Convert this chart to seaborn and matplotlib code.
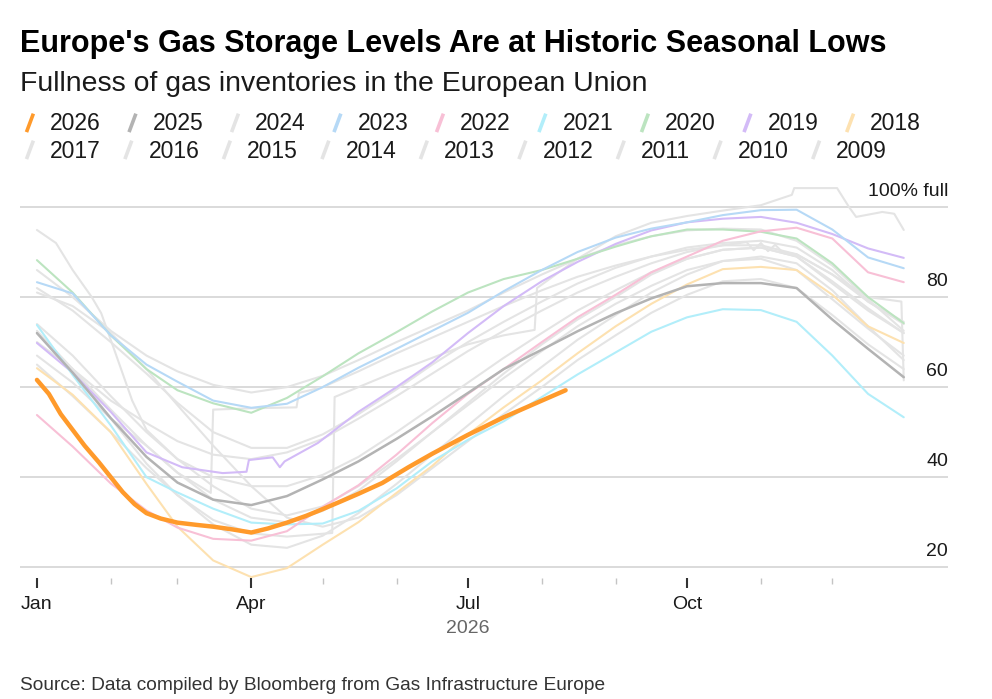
import pandas as pd
import matplotlib
matplotlib.use("Agg")
import matplotlib.pyplot as plt
from matplotlib.lines import Line2D
from matplotlib.legend_handler import HandlerBase
import seaborn as sns

# ── Data: % full, keyed by day of year ───────────────────────────────────────
DAYS = [0, 15, 31, 46, 59, 74, 90, 105, 120, 135, 151, 166, 181,
        196, 212, 227, 243, 258, 273, 288, 304, 319, 334, 349, 364]

days_2026 = [0, 5, 10, 15, 20, 26, 31, 36, 41, 46, 52, 59, 67, 74, 82, 90,
             97, 105, 113, 120, 128, 135, 145, 156, 166, 181, 196, 212, 222]
vals_2026 = [61.6, 58.5, 54.0, 50.5, 47.0, 43.3, 40.0, 36.7, 34.0, 32.0, 30.8,
             29.9, 29.4, 29.0, 28.4, 27.7, 28.6, 29.9, 31.4, 32.9, 34.7, 36.3,
             38.7, 42.2, 45.2, 49.4, 53.3, 57.0, 59.3]

vals_2025 = [72.0, 63.2, 53.1, 44.5, 38.8, 35.0, 33.8, 35.8, 39.5, 43.5, 48.5,
             53.5, 58.7, 64.0, 68.3, 72.4, 76.4, 79.7, 82.4, 83.1, 83.1, 82.0,
             75.0, 68.5, 62.2]
vals_2024 = [86.0, 80.0, 72.5, 67.0, 63.5, 60.5, 58.8, 60.0, 62.5, 66.0, 70.0,
             73.5, 77.0, 81.0, 85.0, 88.5, 91.5, 93.5, 94.8, 95.2, 95.0, 92.5,
             87.0, 79.5, 72.5]
vals_2023 = [83.3, 80.8, 71.5, 65.0, 61.2, 57.0, 55.4, 56.3, 60.0, 64.3, 68.5,
             72.5, 76.5, 81.3, 86.0, 90.0, 93.2, 95.2, 96.6, 98.2, 99.3, 99.4,
             95.0, 88.8, 86.4]
vals_2022 = [53.8, 46.8, 38.6, 32.6, 28.8, 26.3, 25.9, 28.0, 33.4, 38.2, 45.0,
             52.0, 58.5, 64.0, 70.0, 75.5, 80.5, 85.5, 89.0, 92.5, 94.6, 95.4,
             93.0, 85.5, 83.3]
vals_2021 = [73.8, 62.7, 51.5, 40.0, 36.6, 33.0, 29.9, 29.5, 29.7, 32.5, 37.5,
             43.5, 48.3, 52.4, 57.8, 62.8, 67.7, 72.3, 75.5, 77.3, 77.1, 74.5,
             67.0, 58.5, 53.3]
vals_2020 = [88.2, 81.0, 71.5, 64.0, 59.3, 56.4, 54.3, 57.6, 62.4, 67.5, 72.2,
             76.8, 81.0, 84.0, 86.0, 88.5, 91.2, 93.5, 95.0, 95.0, 94.5, 93.0,
             87.5, 80.0, 74.2]
vals_2018 = [64.2, 58.3, 50.0, 38.5, 29.0, 21.5, 17.8, 19.8, 25.0, 30.0, 36.5,
             42.5, 49.5, 55.5, 61.5, 67.5, 73.5, 78.5, 82.8, 86.2, 86.7, 86.0,
             80.5, 73.5, 69.8]

days_2019 = [0, 15, 31, 46, 61, 78, 88, 89, 99, 102, 104, 118, 135, 151, 157,
             166, 181, 196, 212, 227, 243, 258, 273, 288, 304, 319, 334, 349, 364]
vals_2019 = [69.8, 63.2, 54.5, 45.5, 42.2, 40.9, 41.2, 43.8, 44.4, 42.2, 43.5,
             47.6, 54.5, 60.0, 62.2, 65.5, 72.0, 78.0, 83.5, 87.8, 91.8, 94.8,
             96.6, 97.4, 97.8, 96.5, 94.0, 90.8, 88.7]

vals_2017 = [72.5, 64.0, 53.0, 43.0, 36.0, 29.5, 25.0, 24.3, 27.0, 32.0, 38.5,
             45.0, 51.5, 58.0, 64.5, 70.5, 76.0, 81.0, 85.0, 88.0, 89.0, 87.5,
             81.5, 73.5, 66.0]
vals_2016 = [67.0, 61.0, 53.0, 47.0, 41.0, 35.0, 31.0, 30.0, 32.5, 37.0, 43.5,
             50.0, 56.5, 63.0, 69.5, 75.0, 80.0, 85.0, 88.5, 90.5, 91.0, 89.0,
             83.0, 77.0, 72.0]
vals_2015 = [74.0, 67.0, 58.0, 50.0, 44.0, 38.0, 33.0, 31.5, 33.5, 38.0, 44.0,
             50.0, 56.0, 62.0, 68.0, 73.5, 78.5, 82.5, 86.0, 88.0, 88.5, 86.0,
             79.5, 73.0, 67.0]
vals_2014 = [82.0, 77.0, 70.0, 63.0, 56.5, 50.0, 46.5, 46.5, 49.5, 54.0, 59.5,
             65.0, 70.0, 74.5, 79.0, 83.0, 86.5, 89.0, 91.0, 92.0, 92.5, 91.0,
             86.0, 79.0, 74.0]
vals_2013 = [81.0, 78.0, 72.0, 64.0, 56.0, 47.0, 38.0, 31.0, 29.0, 31.0, 36.0,
             42.0, 48.0, 54.0, 60.0, 66.0, 71.5, 76.5, 80.5, 83.5, 84.0, 82.0,
             76.0, 69.5, 64.0]

days_2012 = [0, 8, 15, 23, 27, 32, 40, 46, 59, 74, 90, 105, 120, 135, 151, 166,
             181, 196, 212, 227, 243, 258, 273, 288, 304, 319, 334, 349, 364]
vals_2012 = [94.9, 92.0, 86.0, 80.0, 76.4, 69.0, 57.0, 50.5, 44.0, 40.0, 38.0,
             38.0, 40.5, 44.5, 50.0, 55.5, 61.0, 66.5, 72.0, 77.0, 81.5, 85.5,
             88.5, 90.5, 91.0, 89.0, 83.5, 77.5, 72.0]

days_2011 = [0, 15, 31, 46, 59, 74, 90, 105, 120, 135, 151, 166, 181, 196, 212,
             227, 243, 258, 273, 288, 298, 301, 304, 307, 310, 313, 319, 334,
             349, 364]
vals_2011 = [70.0, 64.0, 57.0, 52.0, 48.0, 45.0, 44.0, 45.5, 48.5, 53.0, 58.0,
             63.0, 68.0, 72.5, 77.0, 81.0, 84.5, 87.5, 90.0, 91.5, 92.2, 90.4,
             92.0, 90.2, 91.6, 90.0, 89.5, 85.0, 79.0, 74.5]

days_2010 = [0, 15, 31, 46, 59, 74, 90, 105, 124, 125, 135, 151, 166, 181, 196,
             209, 210, 227, 243, 258, 273, 288, 304, 317, 318, 336, 341, 344,
             355, 360, 364]
vals_2010 = [65.0, 58.0, 50.0, 42.0, 36.0, 30.5, 27.5, 26.8, 27.6, 57.8, 60.0,
             63.5, 66.5, 69.5, 71.5, 72.7, 82.0, 88.5, 93.5, 96.5, 98.0, 99.2,
             100.4, 102.7, 104.2, 104.2, 100.0, 97.8, 98.9, 98.5, 94.9]

days_2009 = [0, 15, 31, 46, 59, 73, 74, 90, 109, 110, 120, 135, 151, 166, 181,
             196, 212, 227, 243, 258, 273, 288, 304, 319, 334, 349, 363, 364]
vals_2009 = [72.0, 64.0, 55.0, 47.0, 41.0, 36.5, 55.0, 55.3, 55.5, 58.7, 60.0,
             63.5, 67.5, 71.0, 74.5, 78.0, 81.5, 84.5, 87.0, 89.0, 90.5, 91.5,
             91.5, 89.5, 85.0, 80.0, 79.0, 61.5]

YEARS = list(range(2026, 2008, -1))
GREY = "#e4e4e4"
COLORS = {2026: "#ff9a2b", 2025: "#b3b3b3", 2023: "#b6d9f6", 2022: "#f8c0d6",
          2021: "#b2eefa", 2020: "#bce4c0", 2019: "#d3bbf7", 2018: "#fde1b0"}

Y_GRID = [20, 40, 60, 80, 100]
Y_LABELS = ["20", "40", "60", "80", "100% full"]

# ── Long table for seaborn ───────────────────────────────────────────────────
series = {
    2026: (days_2026, vals_2026), 2025: (DAYS, vals_2025), 2024: (DAYS, vals_2024),
    2023: (DAYS, vals_2023), 2022: (DAYS, vals_2022), 2021: (DAYS, vals_2021),
    2020: (DAYS, vals_2020), 2019: (days_2019, vals_2019), 2018: (DAYS, vals_2018),
    2017: (DAYS, vals_2017), 2016: (DAYS, vals_2016), 2015: (DAYS, vals_2015),
    2014: (DAYS, vals_2014), 2013: (DAYS, vals_2013), 2012: (days_2012, vals_2012),
    2011: (days_2011, vals_2011), 2010: (days_2010, vals_2010), 2009: (days_2009, vals_2009),
}
start = pd.Timestamp("2026-01-01")
frames = []
for yr, (d, v) in series.items():
    frames.append(pd.DataFrame({"year": yr,
                                "date": start + pd.to_timedelta(d, unit="D"),
                                "full": v}))
df = pd.concat(frames, ignore_index=True)

# ── Style ────────────────────────────────────────────────────────────────────
sns.set_theme(style="white")
plt.rcParams["font.family"] = ["Liberation Sans", "DejaVu Sans"]
TXT = "#1a1a1a"

fig = plt.figure(figsize=(9.92, 6.99), dpi=100)
ax = fig.add_axes([0.0202, 0.1731, 0.9355, 0.5694])

# grey years first, coloured on top, 2026 last
order = [y for y in YEARS if y not in COLORS][::-1] + \
        [2018, 2019, 2020, 2021, 2022, 2023, 2025, 2026]
for yr in order:
    lw = 3.2 if yr == 2026 else (1.8 if yr == 2025 else 1.5)
    sns.lineplot(data=df[df.year == yr], x="date", y="full",
                 color=COLORS.get(yr, GREY), linewidth=lw,
                 estimator=None, sort=False, legend=False, ax=ax)

ax.set_xlim(start - pd.Timedelta(days=7.1), start + pd.Timedelta(days=382.6))
ax.set_ylim(17.6, 106)
sns.despine(ax=ax, left=True, bottom=True)

ax.set_yticks(Y_GRID)
ax.set_yticklabels([])
ax.tick_params(axis="y", length=0)
ax.grid(axis="y", color="#d4d4d4", linewidth=1.2)
ax.grid(axis="x", visible=False)
ax.set_axisbelow(True)
for v, lab in zip(Y_GRID, Y_LABELS):
    ax.annotate(lab, xy=(1, v), xycoords=ax.get_yaxis_transform(),
                xytext=(0, 5), textcoords="offset points",
                ha="right", va="bottom", fontsize=14, color=TXT)

major = pd.date_range("2026-01-01", periods=4, freq="QS")
minor = pd.date_range("2026-02-01", "2026-12-01", freq="MS")
ax.set_xticks(major)
ax.set_xticklabels([d.strftime("%b") for d in major])
ax.set_xticks(minor, minor=True)
ax.tick_params(axis="x", which="major", direction="out", length=7, width=1.5,
               color="#333333", pad=6, labelsize=14, labelcolor=TXT, bottom=True)
ax.tick_params(axis="x", which="minor", direction="out", length=4, width=1,
               color="#c4c4c4", bottom=True)
ax.set_xlabel("")
ax.set_ylabel("")
ax.text(pd.Timestamp("2026-07-01"), -0.128, "2026", transform=ax.get_xaxis_transform(),
        ha="center", va="center", fontsize=14, color="#666666")

# ── Legend: slash handles, two rows ──────────────────────────────────────────
class SlashHandler(HandlerBase):
    def create_artists(self, legend, orig_handle, xdescent, ydescent,
                       width, height, fontsize, trans):
        x0, y0 = -xdescent, -ydescent
        line = Line2D([x0 + 0.3 * width, x0 + 0.7 * width],
                      [y0 - 0.1 * height, y0 + 1.05 * height],
                      color=orig_handle.get_color(), lw=2.6,
                      solid_capstyle="butt", transform=trans)
        return [line]

handles = {yr: Line2D([], [], color=COLORS.get(yr, GREY)) for yr in YEARS}
rows = [(YEARS[:9], 1 - 124 / 699, 1.01), (YEARS[9:], 1 - 151 / 699, 0.83)]
for yrs, ypos, colsp in rows:
    fig.legend([handles[y] for y in yrs], [str(y) for y in yrs],
               loc="center left", bbox_to_anchor=(0.0215, ypos), ncol=9,
               frameon=False, fontsize=16.5, handlelength=0.75,
               handletextpad=0.5, columnspacing=colsp, borderpad=0,
               borderaxespad=0, labelcolor=TXT,
               handler_map={Line2D: SlashHandler()})

# ── Titles and source ────────────────────────────────────────────────────────
fig.text(0.0202, 1 - 52 / 699, "Europe's Gas Storage Levels Are at Historic Seasonal Lows",
         fontsize=22, fontweight="bold", color="#000000", va="baseline")
fig.text(0.0202, 1 - 91 / 699, "Fullness of gas inventories in the European Union",
         fontsize=20.4, color=TXT, va="baseline")
fig.text(0.0202, 1 - 690 / 699, "Source: Data compiled by Bloomberg from Gas Infrastructure Europe",
         fontsize=13.8, color="#333333", va="baseline")

fig.savefig("out.png", dpi=100)
